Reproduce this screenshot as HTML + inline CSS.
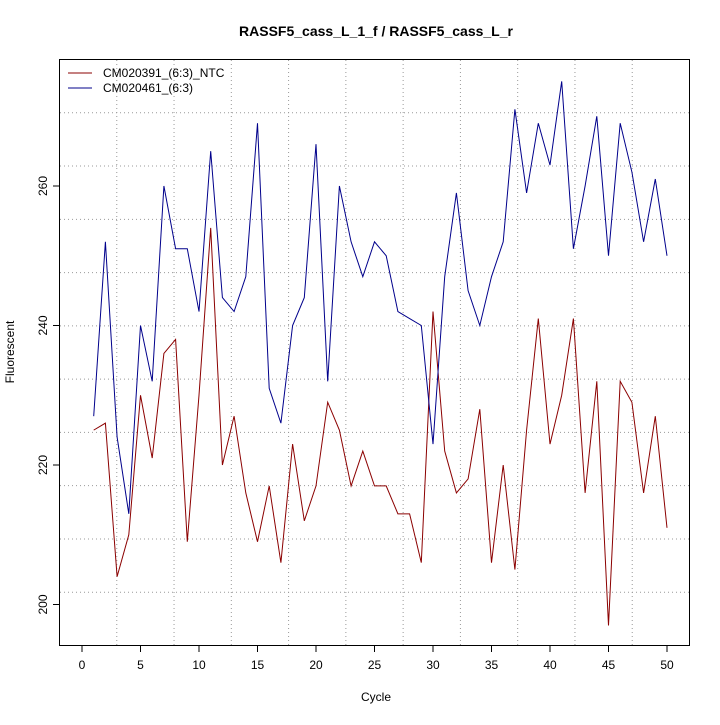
<!DOCTYPE html>
<html><head><meta charset="utf-8"><style>body{margin:0;background:#fff}</style></head><body>
<svg width="720" height="720" xmlns="http://www.w3.org/2000/svg" font-family="Liberation Sans, sans-serif">
<rect width="720" height="720" fill="#fff"/>
<text x="376" y="36" text-anchor="middle" font-weight="bold" font-size="14">RASSF5_cass_L_1_f / RASSF5_cass_L_r</text>
<g id="grid" stroke="#999" stroke-dasharray="1,3" stroke-width="1"></g>
<rect x="59.5" y="59.5" width="630" height="586" fill="none" stroke="#000"/>
<g id="axes" stroke="#000"></g>
<g id="labels" font-size="12"></g>
<polyline id="red" fill="none" stroke="#8b0000" stroke-width="1"/>
<polyline id="blue" fill="none" stroke="#00008b" stroke-width="1"/>
<line x1="68" y1="73" x2="92" y2="73" stroke="#8b0000"/>
<line x1="68" y1="88" x2="92" y2="88" stroke="#00008b"/>
<text x="103" y="77" font-size="12">CM020391_(6:3)_NTC</text>
<text x="103" y="92" font-size="12">CM020461_(6:3)</text>
<text x="376" y="701" text-anchor="middle" font-size="12">Cycle</text>
<text x="14" y="352" text-anchor="middle" font-size="12" transform="rotate(-90 14 352)">Fluorescent</text>
</svg>
<script>
const ns="http://www.w3.org/2000/svg";
function el(p,t,a,txt){const e=document.createElementNS(ns,t);for(const k in a)e.setAttribute(k,a[k]);if(txt!==undefined)e.textContent=txt;document.getElementById(p).appendChild(e);}
for(let i=1;i<11;i++){const x=59.5+630*i/11;el("grid","line",{x1:x,y1:60,x2:x,y2:645});const y=59.5+586*i/11;el("grid","line",{x1:60,y1:y,x2:689,y2:y});}
const X=c=>82+c*11.7, Y=v=>186+(260-v)*6.975;
for(let c=0;c<=50;c+=5){const x=X(c);el("axes","line",{x1:x,y1:646,x2:x,y2:652});el("labels","text",{x:x,y:669,"text-anchor":"middle"},c);}
el("axes","line",{x1:X(0),y1:645.5,x2:X(50),y2:645.5});
for(let v=200;v<=260;v+=20){const y=Y(v);el("axes","line",{x1:53,y1:y,x2:59,y2:y});el("labels","text",{x:47,y:y,"text-anchor":"middle",transform:`rotate(-90 47 ${y})`},v);}
const r=[225,226,204,210,230,221,236,238,209,230,254,220,227,216,209,217,206,223,212,217,229,225,217,222,217,217,213,213,206,242,222,216,218,228,206,220,205,225,241,223,230,241,216,232,197,232,229,216,227,211];
const b=[227,252,224,213,240,232,260,251,251,242,265,244,242,247,269,231,226,240,244,266,232,260,252,247,252,250,242,241,240,223,247,259,245,240,247,252,271,259,269,263,275,251,260,270,250,269,262,252,261,250];
document.getElementById("red").setAttribute("points",r.map((v,i)=>X(i+1)+","+Y(v)).join(" "));
document.getElementById("blue").setAttribute("points",b.map((v,i)=>X(i+1)+","+Y(v)).join(" "));
</script>
</body></html>
